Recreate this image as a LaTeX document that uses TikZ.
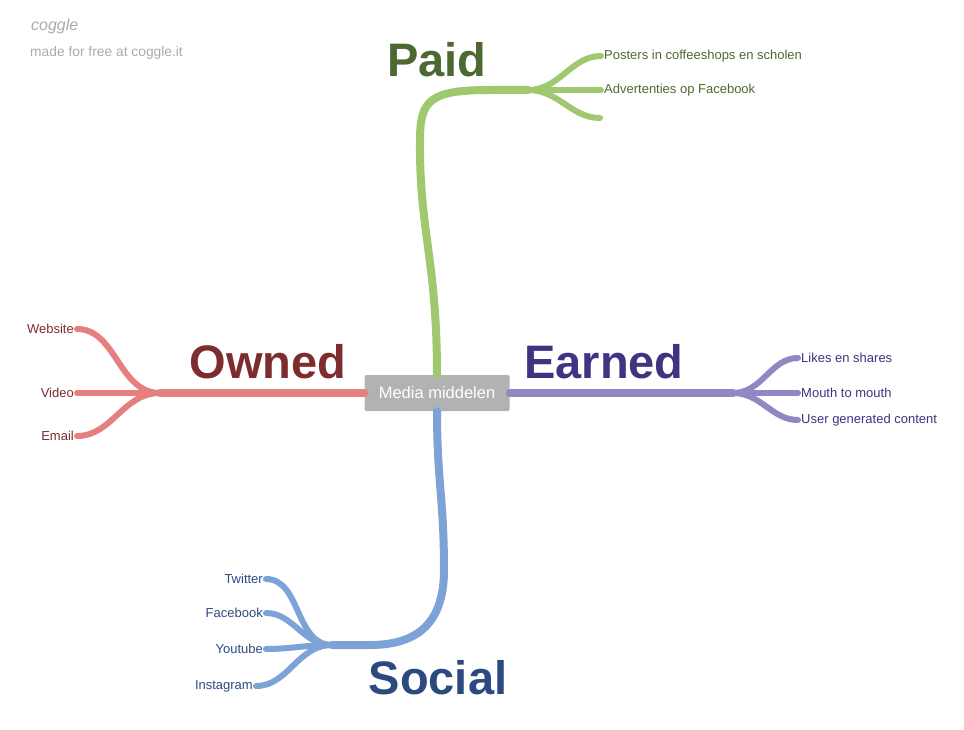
\documentclass[tikz,border=0pt]{standalone}
\usepackage{fontspec}
\setmainfont{Liberation Sans}
\usetikzlibrary{positioning}
\definecolor{centregrey}{RGB}{178,178,178}
\definecolor{paidline}{RGB}{160,200,110}
\definecolor{paidtext}{RGB}{78,104,50}
\definecolor{ownedline}{RGB}{230,128,128}
\definecolor{ownedtext}{RGB}{125,45,45}
\definecolor{earnedline}{RGB}{145,135,195}
\definecolor{earnedtext}{RGB}{62,52,128}
\definecolor{socialline}{RGB}{125,162,215}
\definecolor{socialtext}{RGB}{44,74,128}
\definecolor{logogrey}{RGB}{170,170,170}

\begin{document}
\begin{tikzpicture}[x=1pt,y=-1pt,line cap=round,
            main node/.style={fill=centregrey,text=white,rounded corners=1.5pt,
              minimum width=145pt,minimum height=36pt,font=\fontsize{16.5}{16.5}\selectfont},
            title node/.style={font=\fontsize{47}{47}\selectfont\bfseries},
            leaf node/.style={inner sep=1pt,font=\fontsize{13}{13}\selectfont},
            branch/.style={line width=8pt},
            twig/.style={line width=6pt,shorten >=2pt}]
  \useasboundingbox (0,0) rectangle (964,730);

  % logo
  \node[anchor=west,text=logogrey,font=\fontsize{16}{16}\selectfont\itshape,inner sep=1pt] (logo) at (30,26) {coggle};
  \node[anchor=west,text=logogrey,font=\fontsize{13.8}{13.8}\selectfont,inner sep=1pt] (made) at (29,53) {made for free at coggle.it};

  \node[main node] (0) at (437,393) {Media middelen};

  % Paid
  \node[title node,text=paidtext] (paid) at (437,60) {Paid};
  \coordinate (pj) at (490,90);
  \coordinate (pf) at (528,90);
  \node[leaf node,text=paidtext,anchor=west] (p1) at (603,56) {Posters in coffeeshops en scholen};
  \node[leaf node,text=paidtext,anchor=west] (p2) at (603,90) {Advertenties op Facebook};
  \coordinate (p3) at (602,118);
  \draw[branch,paidline] (0.north) .. controls (437,260) and (419,230) .. (420,140)
    .. controls (420,100) and (430,90) .. (pj) -- (pf);
  \path[twig,paidline]
    (pf) edge[out=0,in=180] (p1.west)
    (pf) edge (p2.west)
    (pf) edge[out=0,in=180] (p3);

  % Earned
  \node[title node,text=earnedtext] (earned) at (604,362) {Earned};
  \coordinate (ef) at (733,393);
  \node[leaf node,text=earnedtext,anchor=west] (e1) at (800,358) {Likes en shares};
  \node[leaf node,text=earnedtext,anchor=west] (e2) at (800,393) {Mouth to mouth};
  \node[leaf node,text=earnedtext,anchor=west] (e3) at (800,420) {User generated content};
  \draw[branch,earnedline] (0.east) -- (ef);
  \path[twig,earnedline]
    (ef) edge[out=0,in=180] (e1.west)
    (ef) edge (e2.west)
    (ef) edge[out=0,in=180] (e3.west);

  % Owned
  \node[title node,text=ownedtext] (owned) at (268,362) {Owned};
  \coordinate (of) at (160,393);
  \node[leaf node,text=ownedtext,anchor=east] (o1) at (75,329) {Website};
  \node[leaf node,text=ownedtext,anchor=east] (o2) at (75,393) {Video};
  \node[leaf node,text=ownedtext,anchor=east] (o3) at (75,436) {Email};
  \draw[branch,ownedline] (0.west) -- (of);
  \path[twig,ownedline]
    (of) edge[out=180,in=0] (o1.east)
    (of) edge (o2.east)
    (of) edge[out=180,in=0] (o3.east);

  % Social
  \node[title node,text=socialtext] (social) at (438,678) {Social};
  \coordinate (sj) at (370,645);
  \coordinate (sf) at (332,645);
  \node[leaf node,text=socialtext,anchor=east] (s1) at (264,579) {Twitter};
  \node[leaf node,text=socialtext,anchor=east] (s2) at (264,613) {Facebook};
  \node[leaf node,text=socialtext,anchor=east] (s3) at (264,649) {Youtube};
  \node[leaf node,text=socialtext,anchor=east] (s4) at (254,686) {Instagram};
  \draw[branch,socialline] (0.south) .. controls (437,480) and (444,500) .. (444,570)
    .. controls (444,628) and (412,645) .. (sj) -- (sf);
  \path[twig,socialline]
    (sf) edge[out=180,in=0] (s1.east)
    (sf) edge[out=180,in=0] (s2.east)
    (sf) edge[out=180,in=0] (s3.east)
    (sf) edge[out=180,in=0] (s4.east);
\end{tikzpicture}
\end{document}
